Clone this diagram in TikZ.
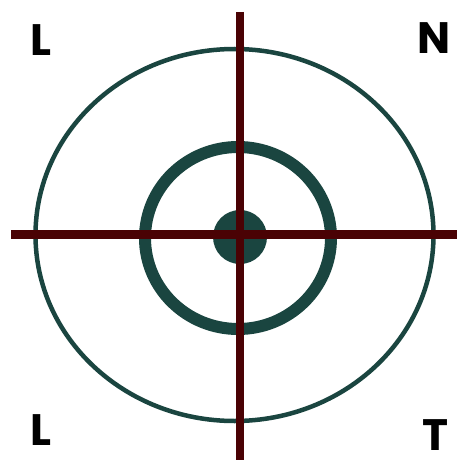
\documentclass[tikz,border=0pt]{standalone}
\usepackage{fontspec}
\newfontfamily\letterfont{Poppins}
\definecolor{ringteal}{HTML}{1A4540}
\definecolor{crossred}{HTML}{4A0204}
\begin{document}
\begin{tikzpicture}[x=1pt,y=-1pt,
  ring/.style={draw=ringteal},
  crossline/.style={draw=crossred,line width=8.5pt},
  letter/.style={anchor=base,inner sep=0pt,font=\letterfont\fontsize{44}{44}\selectfont\bfseries,text=black}]
\useasboundingbox[fill=white] (0,0) rectangle (457,460);
% rings
\draw[ring,line width=4.5pt] (234.5,235) ellipse [x radius=199,y radius=186];
\draw[ring,line width=12pt] (238,238) ellipse [x radius=93,y radius=91];
\fill[ringteal] (240,237) circle [radius=27];
% cross
\coordinate (vtop) at (240,12);
\coordinate (vbot) at (240,460);
\coordinate (hleft) at (11,234.5);
\coordinate (hright) at (457,234.5);
\draw[crossline] (vtop) -- (vbot);
\draw[crossline] (hleft) -- (hright);
% letters
\node[letter] (tl) at (41,56) {L};
\node[letter] (tr) at (434.5,53) {N};
\node[letter] (bl) at (41,445) {L};
\node[letter] (br) at (435.5,450) {T};
\end{tikzpicture}
\end{document}
